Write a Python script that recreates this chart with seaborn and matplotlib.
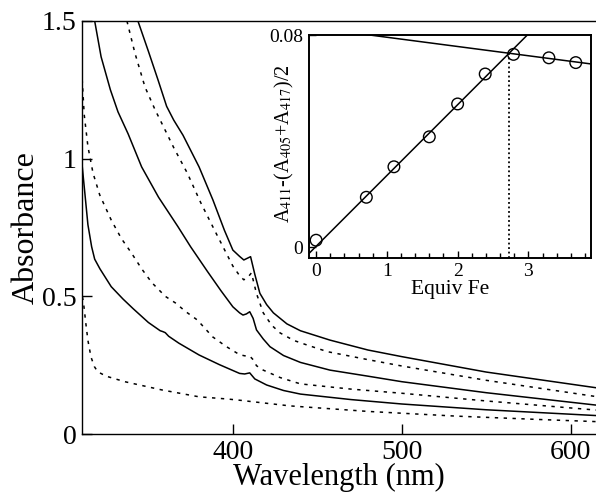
import numpy as np
import pandas as pd
import matplotlib
matplotlib.use("Agg")
import matplotlib.pyplot as plt
import seaborn as sns
from matplotlib.ticker import MultipleLocator

# ---------------- data ----------------
# main panel: six absorbance spectra (bottom -> top), alternating dotted / solid
wl_1 = [310.0, 311.6, 313.0, 314.2, 316.0, 318.0, 320.0, 325.0, 336.0, 358.0, 380.0, 397.0, 405.0, 412.0, 434.0, 480.0, 532.0, 580.0, 615.0]
abs_1 = [0.53, 0.476, 0.40, 0.34, 0.28, 0.245, 0.226, 0.21, 0.19, 0.16, 0.135, 0.127, 0.122, 0.117, 0.102, 0.082, 0.065, 0.053, 0.045]

wl_2 = [310.7, 312.3, 314.2, 316.4, 318.2, 321.3, 328.0, 335.0, 341.0, 350.0, 357.0, 358.5, 360.0, 362.0, 368.0, 380.0, 392.0, 404.0, 407.0, 410.0, 413.0, 420.0, 430.0, 440.0, 470.0, 500.0, 550.0, 615.0]
abs_2 = [0.98, 0.88, 0.76, 0.68, 0.635, 0.60, 0.535, 0.49, 0.455, 0.405, 0.375, 0.372, 0.368, 0.355, 0.33, 0.287, 0.252, 0.22, 0.218, 0.222, 0.20, 0.178, 0.158, 0.145, 0.125, 0.109, 0.088, 0.067]

wl_3 = [310.5, 312.0, 314.2, 317.2, 321.2, 328.0, 334.0, 340.0, 346.0, 352.0, 360.0, 366.0, 372.0, 379.0, 388.0, 396.0, 404.0, 407.0, 410.0, 412.0, 414.0, 418.0, 428.0, 440.0, 470.0, 500.0, 550.0, 615.0]
abs_3 = [1.32, 1.16, 1.044, 0.948, 0.868, 0.777, 0.71, 0.657, 0.60, 0.55, 0.50, 0.476, 0.445, 0.414, 0.353, 0.318, 0.288, 0.284, 0.283, 0.27, 0.248, 0.232, 0.205, 0.182, 0.163, 0.148, 0.12, 0.087]

wl_4 = [318.2, 322.0, 327.5, 332.0, 338.0, 346.0, 356.0, 367.5, 375.0, 385.0, 393.0, 400.0, 404.0, 406.0, 408.0, 410.0, 412.0, 414.0, 418.0, 422.0, 430.0, 440.0, 457.5, 480.0, 500.0, 550.0, 615.0]
abs_4 = [1.5, 1.37, 1.25, 1.17, 1.09, 0.97, 0.86, 0.753, 0.68, 0.59, 0.52, 0.462, 0.44, 0.432, 0.436, 0.444, 0.42, 0.378, 0.345, 0.317, 0.285, 0.26, 0.232, 0.21, 0.19, 0.15, 0.105]

wl_5 = [337.3, 342.0, 348.0, 354.0, 357.0, 365.0, 373.0, 381.0, 390.0, 400.0, 404.0, 406.5, 409.0, 411.0, 414.0, 418.0, 423.0, 428.0, 436.0, 444.0, 456.0, 480.0, 500.0, 550.0, 615.0]
abs_5 = [1.5, 1.384, 1.26, 1.177, 1.14, 1.04, 0.948, 0.84, 0.73, 0.61, 0.575, 0.56, 0.57, 0.585, 0.51, 0.44, 0.395, 0.367, 0.34, 0.323, 0.299, 0.27, 0.247, 0.195, 0.136]

wl_6 = [343.8, 350.0, 355.7, 360.8, 365.0, 370.5, 380.0, 388.2, 395.0, 400.0, 404.0, 406.5, 408.5, 410.5, 413.0, 416.0, 420.0, 424.0, 432.0, 440.0, 457.5, 480.0, 500.0, 550.0, 615.0]
abs_6 = [1.5, 1.39, 1.286, 1.19, 1.14, 1.085, 0.97, 0.85, 0.74, 0.668, 0.645, 0.632, 0.638, 0.644, 0.58, 0.511, 0.47, 0.44, 0.40, 0.375, 0.341, 0.305, 0.281, 0.225, 0.168]

line_styles = ["dotted", "solid", "dotted", "solid", "dotted", "solid"]

# inset: titration
equiv_fe = [0.0, 0.71, 1.10, 1.60, 2.0, 2.39, 2.79, 3.29, 3.67]
signal = [0.0026, 0.0188, 0.0303, 0.0416, 0.054, 0.0653, 0.0727, 0.0714, 0.0696]
rise_fit = [0.0267, 0.0003]      # slope, intercept
plateau_fit = [-0.00349, 0.08265]  # slope, intercept

main_xticks = [400, 500, 600]
main_yticks = [0, 0.5, 1, 1.5]
main_yticklabels = ["0", "0.5", "1", "1.5"]
inset_xticks = [0, 1, 2, 3]
inset_yticks = [0, 0.08]
inset_yticklabels = ["0", "0.08"]

# ---------------- style ----------------
sns.set_theme(style="ticks", rc={
    "axes.edgecolor": "black", "xtick.color": "black", "ytick.color": "black",
    "text.color": "black", "axes.labelcolor": "black",
})
plt.rcParams["font.family"] = ["Liberation Serif", "DejaVu Serif"]
plt.rcParams["mathtext.fontset"] = "stix"

fig = plt.figure(figsize=(5.96, 4.96), dpi=100)
ax = fig.add_axes([0.1376, 0.125, 0.8624, 0.8327])

spectra = [(wl_1, abs_1), (wl_2, abs_2), (wl_3, abs_3), (wl_4, abs_4), (wl_5, abs_5), (wl_6, abs_6)]
for (wl, ab), ls in zip(spectra, line_styles):
    style = (0, (2.2, 3.6)) if ls == "dotted" else "-"
    sns.lineplot(x=wl, y=ab, ax=ax, color="black", linewidth=1.1,
                 linestyle=style, sort=False, estimator=None)

ax.set_xlim(310.7, 615)
ax.set_ylim(0, 1.5)
ax.set_xticks(main_xticks)
ax.set_xticklabels([str(t) for t in main_xticks])
ax.set_yticks(main_yticks)
ax.set_yticklabels(main_yticklabels)
ax.tick_params(direction="in", length=7, width=1, labelsize=20, pad=4)
ax.spines["right"].set_visible(False)
for s in ["left", "bottom", "top"]:
    ax.spines[s].set_linewidth(1.0)
ax.set_xlabel("Wavelength (nm)", fontsize=22, labelpad=-1)
ax.set_ylabel("Absorbance", fontsize=23, labelpad=1)

# ---------------- inset ----------------
axin = fig.add_axes([0.5185, 0.4804, 0.4732, 0.449])
axin.set_facecolor("white")
xmin, xmax = -0.1, 3.886
axin.set_xlim(xmin, xmax)
axin.set_ylim(-0.004, 0.08)

fit_x = np.array([xmin, xmax])
sns.lineplot(x=fit_x, y=rise_fit[0] * fit_x + rise_fit[1], ax=axin, color="black", linewidth=1.1)
sns.lineplot(x=fit_x, y=plateau_fit[0] * fit_x + plateau_fit[1], ax=axin, color="black", linewidth=1.1)
x_break = (plateau_fit[1] - rise_fit[1]) / (rise_fit[0] - plateau_fit[0])
y_break = rise_fit[0] * x_break + rise_fit[1]
sns.lineplot(x=[x_break, x_break], y=[-0.004, y_break], ax=axin, color="black",
             linewidth=1.3, linestyle=(0, (1, 1.5)), sort=False, estimator=None)
sns.scatterplot(x=equiv_fe, y=signal, ax=axin, marker="o", s=70,
                facecolors="none", edgecolor="black", linewidth=1.0, zorder=5)

axin.set_xticks(inset_xticks)
axin.set_xticklabels([str(t) for t in inset_xticks])
axin.xaxis.set_minor_locator(MultipleLocator(0.2))
axin.set_yticks(inset_yticks)
axin.set_yticklabels(inset_yticklabels)
axin.tick_params(which="major", direction="in", length=5, width=1, labelsize=14, pad=4)
axin.tick_params(which="minor", direction="in", length=3.5, width=1)
for s in axin.spines.values():
    s.set_linewidth(1.4)
axin.set_xlabel("Equiv Fe", fontsize=15.5, labelpad=0)
axin.set_ylabel(r"A$_{411}$-(A$_{405}$+A$_{417}$)/2", fontsize=14.5)
axin.yaxis.set_label_coords(-0.045, 0.51)

fig.savefig("out.png", dpi=100)
